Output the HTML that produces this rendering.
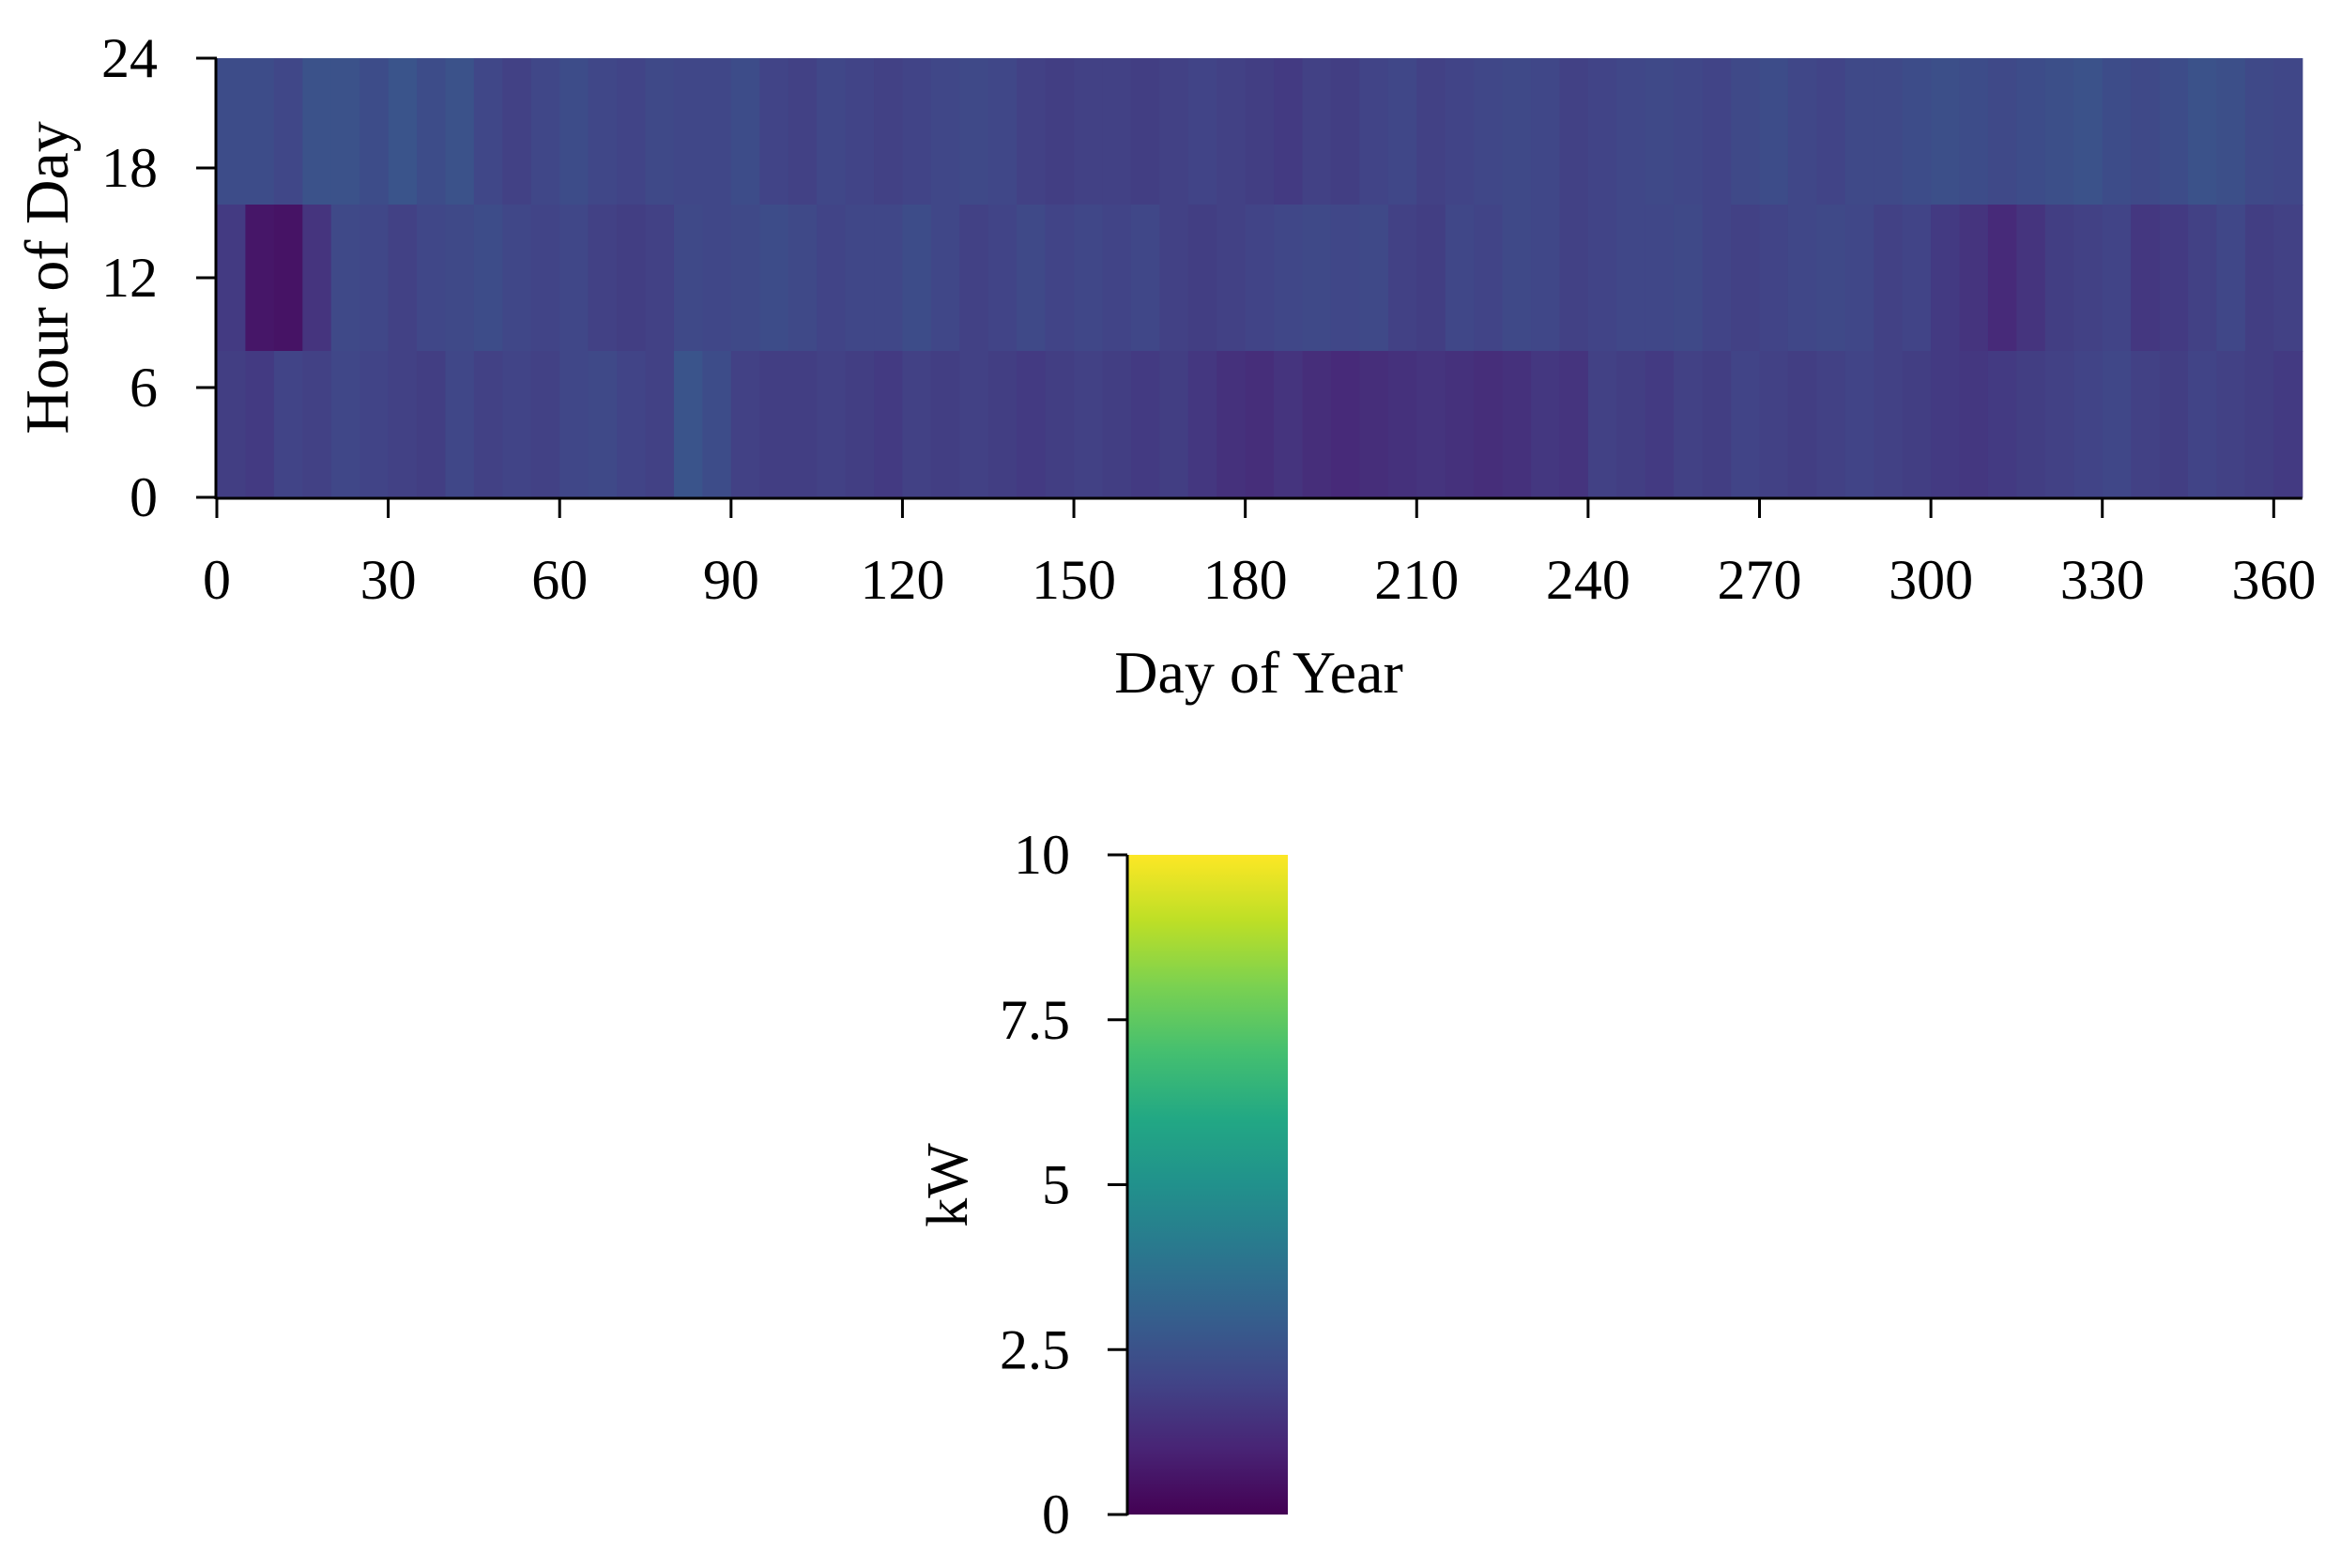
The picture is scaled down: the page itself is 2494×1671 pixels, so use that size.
<!DOCTYPE html>
<html><head><meta charset="utf-8">
<style>
html,body{margin:0;padding:0;background:#fff;}
svg text{font-family:"Liberation Serif",serif;fill:#000;}
</style></head>
<body>
<svg id="chart" width="2494" height="1666" viewBox="0 0 2494 1666" xmlns="http://www.w3.org/2000/svg">
<defs>
<linearGradient id="vir" x1="0" y1="1" x2="0" y2="0">
<stop offset="0" stop-color="#440154"/><stop offset="0.1" stop-color="#482475"/><stop offset="0.2" stop-color="#414487"/><stop offset="0.3" stop-color="#355f8d"/><stop offset="0.4" stop-color="#2a788e"/><stop offset="0.5" stop-color="#21918c"/><stop offset="0.6" stop-color="#22a884"/><stop offset="0.7" stop-color="#44bf70"/><stop offset="0.8" stop-color="#7ad151"/><stop offset="0.9" stop-color="#bddf26"/><stop offset="1" stop-color="#fde725"/>
</linearGradient>
</defs>
<g id="cells"></g>
<g id="axes"></g>
<rect x="1201" y="911" width="171" height="703" fill="url(#vir)"/>
<g id="cbaxis"></g>
<text transform="translate(72,296) rotate(-90)" text-anchor="middle" font-size="66">Hour of Day</text>
<text x="1341" y="738" text-anchor="middle" font-size="64">Day of Year</text>
<text transform="translate(1030,1263) rotate(-90)" text-anchor="middle" font-size="62">kW</text>
</svg>
<script>
// 5-day block means (kW) for three 8-hour bands
const blockDays = 5;
const bandTop = [2.3,2.3,2.1,2.5,2.5,2.3,2.6,2.3,2.5,2.1, 1.9,2.1,2.3,2.1,2,2.2,2.1,2.1,2.3,2, 1.9,2.1,2,1.9,2,2.1,2.2,2.1,1.9,1.8, 1.9,1.9,1.8,1.9,2,1.9,1.8,1.7,1.9,1.8, 2,2.1,1.9,2,2.1,2.2,2.1,1.9,2,2.1, 2.2,2.1,2,2.2,2.3,2.1,2,2.2,2.2,2.3, 2.4,2.3,2.2,2.3,2.4,2.5,2.3,2.2,2.3,2.5, 2.4,2.2,2.1];
const bandMid = [1.7,0.6,0.5,1.5,2.2,2.1,1.9,2.1,2.2,2.3, 2.1,2,2.1,1.9,1.8,1.9,2.2,2.1,2.2,2.3, 2.2,2,2.1,2.1,2.3,2.1,1.9,2,2.2,2, 2.1,2,2.1,1.9,1.8,1.9,2,2.1,2.2,2.1, 2.2,1.9,1.8,2.1,2,2.2,2.1,1.9,2,2.1, 2.1,2.2,2,1.9,2,2.1,2.2,2.1,1.9,2, 1.7,1.5,1.2,1.5,1.8,1.9,2,1.6,1.7,1.9, 2.1,1.8,1.9];
const bandBot = [1.8,1.7,2,1.9,2.1,2,1.9,1.8,2.1,1.9, 2,1.9,2.1,2.2,2,1.9,2.6,2.3,1.9,1.8, 1.8,1.9,1.8,1.7,1.9,1.8,1.9,1.8,1.7,1.8, 1.9,1.8,1.7,1.8,1.6,1.4,1.3,1.5,1.3,1.2, 1.3,1.4,1.5,1.4,1.3,1.4,1.6,1.5,1.9,1.8, 1.7,1.9,1.8,2,1.9,1.8,1.9,2,1.9,1.8, 1.7,1.6,1.7,1.8,1.9,2,2.1,1.9,1.8,2, 1.9,1.8,1.7];
const bandHours = [[16,24],[8,16],[0,8]];
const xTicks = [0,30,60,90,120,150,180,210,240,270,300,330,360];
const yTicks = [0,6,12,18,24];
const cbTicks = [0,2.5,5,7.5,10];
const cbLabels = ["0","2.5","5","7.5","10"];

const NS = "http://www.w3.org/2000/svg";
const X0 = 231, PX = 6.087, Y0 = 530, Y1 = 62;
const xs = d => X0 + d * PX;
const ys = h => Y0 - (Y0 - Y1) * h / 24;
const CB0 = 1614, CB1 = 911;
const cs = v => CB0 - (CB0 - CB1) * v / 10;
const VIR = ["#440154","#482475","#414487","#355f8d","#2a788e","#21918c","#22a884","#44bf70","#7ad151","#bddf26","#fde725"];
function hex(c){return [1,3,5].map(i=>parseInt(c.substr(i,2),16));}
function viridis(v){
  let t = Math.max(0, Math.min(1, v/10)) * 10;
  let i = Math.min(9, Math.floor(t)), f = t - i;
  const a = hex(VIR[i]), b = hex(VIR[i+1]);
  return "rgb(" + a.map((x,k)=>Math.round(x + (b[k]-x)*f)).join(",") + ")";
}
function el(tag, attrs, parent){
  const e = document.createElementNS(NS, tag);
  for (const k in attrs) e.setAttribute(k, attrs[k]);
  parent.appendChild(e); return e;
}
const cells = document.getElementById("cells");
[bandTop, bandMid, bandBot].forEach((arr, bi) => {
  const [h0, h1] = bandHours[bi];
  arr.forEach((v, i) => {
    const d0 = i * blockDays, d1 = Math.min(365, d0 + blockDays);
    const r = el("rect", {x: xs(d0), y: ys(h1), width: xs(d1) - xs(d0) + 0.6, height: ys(h0) - ys(h1) + 0.6, fill: viridis(v)}, cells);
    
    
  });
});
const axes = document.getElementById("axes");
const xl = el("line", {x1: X0, y1: Y0+1, x2: xs(365), y2: Y0+1, stroke: "#000", "stroke-width": 3}, axes);


const yl = el("line", {x1: X0-1, y1: Y1, x2: X0-1, y2: Y0+2, stroke: "#000", "stroke-width": 3}, axes);


xTicks.forEach(t => {
  const x = xs(t);
  const tk = el("line", {x1: x, y1: Y0, x2: x, y2: Y0 + 22, stroke: "#000", "stroke-width": 3}, axes);
  
  
  const tx = el("text", {x: x, y: 638, "text-anchor": "middle", "font-size": 60}, axes);
  tx.textContent = t;
  
  
});
yTicks.forEach(t => {
  const y = ys(t);
  const tk = el("line", {x1: X0 - 22, y1: y, x2: X0, y2: y, stroke: "#000", "stroke-width": 3}, axes);
  
  
  const tx = el("text", {x: 168, y: y + 20, "text-anchor": "end", "font-size": 60}, axes);
  tx.textContent = t;
  
  
});
const cb = document.getElementById("cbaxis");
const cbl = el("line", {x1: 1201, y1: CB1, x2: 1201, y2: CB0 + 1, stroke: "#000", "stroke-width": 3}, cb);


cbTicks.forEach((t, i) => {
  const y = cs(t);
  const tk = el("line", {x1: 1180, y1: y, x2: 1201, y2: y, stroke: "#000", "stroke-width": 3}, cb);
  
  
  const tx = el("text", {x: 1140, y: y + 20, "text-anchor": "end", "font-size": 60}, cb);
  tx.textContent = cbLabels[i];
  
  
});
</script>
</body></html>
